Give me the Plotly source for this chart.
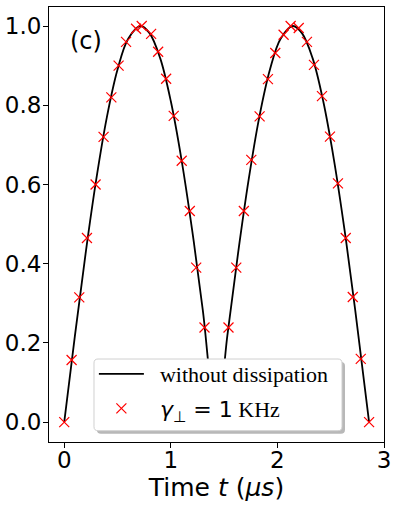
import plotly.graph_objects as go

# black curve: without dissipation
t_line = [0.0, 0.1, 0.2, 0.3, 0.4, 0.5, 0.6, 0.715, 0.8, 0.9, 1.0, 1.1, 1.2, 1.3, 1.43,
          1.53, 1.63, 1.73, 1.83, 1.93, 2.03, 2.145, 2.23, 2.33, 2.43, 2.53, 2.63, 2.73, 2.86]
p_line = [0.0, 0.218, 0.425, 0.612, 0.770, 0.890, 0.968, 1.0, 0.982, 0.919, 0.810, 0.663, 0.485, 0.283, 0.0,
          0.218, 0.425, 0.612, 0.770, 0.890, 0.968, 1.0, 0.982, 0.919, 0.810, 0.663, 0.485, 0.283, 0.0]

# red crosses: gamma_perp = 1 KHz
t_mark = [0.0, 0.069, 0.141, 0.213, 0.294, 0.369, 0.442, 0.510, 0.580, 0.674, 0.727, 0.815,
          0.881, 0.956, 1.027, 1.102, 1.178, 1.238, 1.316,
          1.541, 1.614, 1.685, 1.755, 1.833, 1.911, 1.980, 2.058, 2.124, 2.200, 2.277,
          2.343, 2.418, 2.493, 2.568, 2.641, 2.707, 2.782, 2.860]
p_mark = [0.0, 0.157, 0.315, 0.465, 0.600, 0.720, 0.820, 0.900, 0.960, 0.993, 1.0, 0.980,
          0.935, 0.867, 0.773, 0.660, 0.533, 0.390, 0.239,
          0.239, 0.390, 0.533, 0.662, 0.772, 0.866, 0.932, 0.978, 1.0, 0.995, 0.960,
          0.902, 0.823, 0.721, 0.603, 0.465, 0.316, 0.160, 0.0]

fig = go.Figure()
fig.add_trace(go.Scatter(x=t_line, y=p_line, mode="lines", line=dict(color="black", width=1.8, shape="spline"),
                         name="&nbsp;&nbsp;without dissipation", legendgroup="a"))
fig.add_trace(go.Scatter(x=t_mark, y=p_mark, mode="markers",
                         marker=dict(symbol="x-thin", size=10, line=dict(color="red", width=1.2)),
                         name='&nbsp;&nbsp;<span style="font-family:DejaVu Sans"><i>γ</i><sub>⊥</sub> = 1</span> KHz',
                         legendgroup="b"))

fig.add_annotation(x=0.2, y=0.963, xref="x", yref="y", text="(c)", showarrow=False,
                   font=dict(family="DejaVu Sans", size=24, color="black"))


# legend frame drawn as shapes (rounded box + soft shadow, like matplotlib)
def rounded(x0, y0, x1, y1, rx=0.012, ry=0.0092):
    return (f"M{x0+rx},{y0} L{x1-rx},{y0} Q{x1},{y0} {x1},{y0+ry} L{x1},{y1-ry} Q{x1},{y1} {x1-rx},{y1} "
            f"L{x0+rx},{y1} Q{x0},{y1} {x0},{y1-ry} L{x0},{y0+ry} Q{x0},{y0} {x0+rx},{y0} Z")


fig.add_shape(type="path", path=rounded(0.143, 0.019, 0.8836, 0.184), xref="paper", yref="paper",
              fillcolor="#b8b8b8", line=dict(width=0), layer="above")
fig.add_shape(type="path", path=rounded(0.1343, 0.026, 0.8746, 0.1908), xref="paper", yref="paper",
              fillcolor="white", line=dict(color="#d0d0d0", width=1), layer="above")

axis = dict(showgrid=False, zeroline=False, showline=True, linecolor="black", linewidth=1, mirror=True,
            ticks="outside", ticklen=5, tickwidth=1, tickcolor="black",
            tickfont=dict(family="DejaVu Sans", size=23, color="black"))
fig.update_xaxes(range=[-0.143, 3.0], tickvals=[0, 1, 2, 3], ticklabelstandoff=-8, **axis,
                 title=dict(text="Time <i>t</i> (<i>μs</i>)", standoff=0,
                            font=dict(family="DejaVu Sans", size=25, color="black")))
fig.update_yaxes(range=[-0.05, 1.048], tickvals=[0, 0.2, 0.4, 0.6, 0.8, 1.0], tickformat=".1f",
                 ticklabelstandoff=-3, **axis)

fig.update_layout(
    width=398, height=508,
    margin=dict(l=49, r=14, t=7, b=66, autoexpand=False),
    plot_bgcolor="white", paper_bgcolor="white",
    legend=dict(x=0.134, y=0.0276, xanchor="left", yanchor="bottom",
                bgcolor="rgba(0,0,0,0)", borderwidth=0,
                font=dict(family="Liberation Serif", size=22, color="black"),
                itemwidth=45, tracegroupgap=3),
)

fig.write_html("out.html", config={"displayModeBar": False},
               post_script="document.body.style.margin='0';")
